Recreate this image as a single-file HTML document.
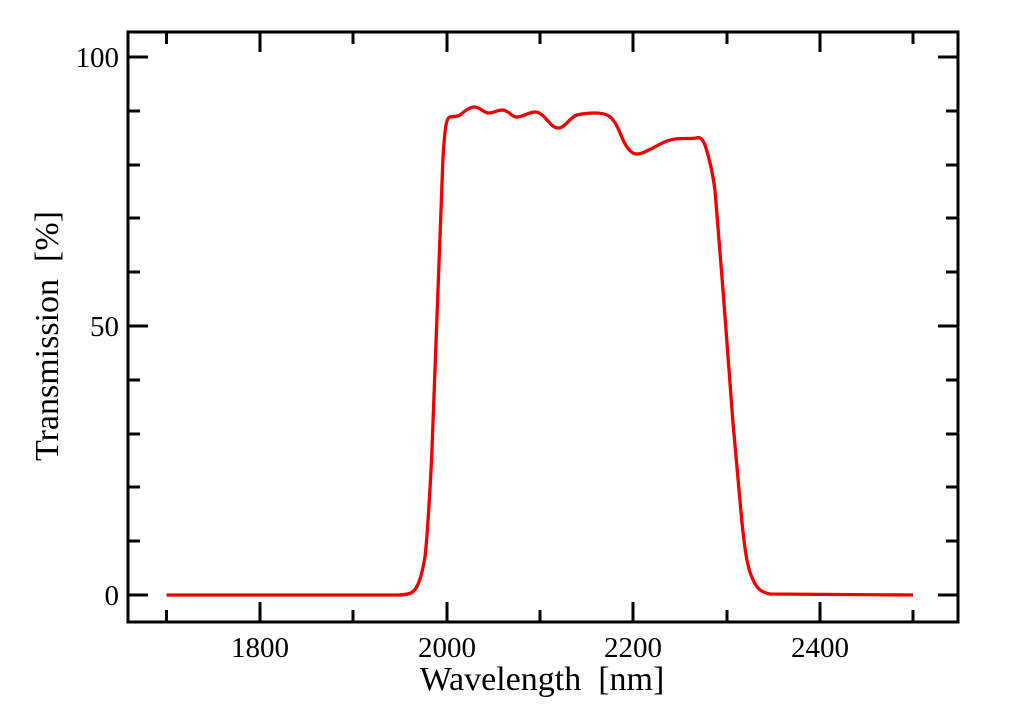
<!DOCTYPE html>
<html><head><style>body{margin:0;background:#fff}</style></head><body>
<svg width="1024" height="708" viewBox="0 0 1024 708" xmlns="http://www.w3.org/2000/svg" font-family="Liberation Serif, serif">
<rect x="128" y="32" width="830" height="590" fill="none" stroke="#000" stroke-width="3"/>
<g stroke="#000" stroke-width="3">
<path d="M260,622v-20M447,622v-20M633,622v-20M820,622v-20M260,32v20M447,32v20M633,32v20M820,32v20"/>
<path d="M166.5,622v-12M353,622v-12M540,622v-12M727,622v-12M913,622v-12M166.5,32v12M353,32v12M540,32v12M727,32v12M913,32v12"/>
<path d="M128,57h20M128,326h20M128,595h20M958,57h-20M958,326h-20M958,595h-20"/>
<path d="M128,111h12M128,165h12M128,218h12M128,272h12M128,380h12M128,434h12M128,487h12M128,541h12M958,111h-12M958,165h-12M958,218h-12M958,272h-12M958,380h-12M958,434h-12M958,487h-12M958,541h-12"/>
</g>
<g font-size="29" text-anchor="end">
<text x="119" y="67">100</text><text x="119" y="336">50</text><text x="119" y="605">0</text>
</g>
<g font-size="29" text-anchor="middle">
<text x="260" y="657">1800</text><text x="447" y="657">2000</text><text x="633" y="657">2200</text><text x="820" y="657">2400</text>
</g>
<text x="542" y="690" font-size="34" text-anchor="middle">Wavelength&#160;&#160;[nm]</text>
<text transform="translate(58,336) rotate(-90)" font-size="34" text-anchor="middle">Transmission&#160;&#160;[%]</text>
<path fill="none" stroke="#e00" stroke-width="3.3" stroke-linejoin="round" d="M166.5,595 L398,595 C405,595 408,594 411,593 C417,590 421,580 425,557 C428,530 430,490 431.7,457 L438,290 L443,157 C445,128 446,118 450,117 C455,116 457,117 460,115 C466,110 470,107 474.5,107 C480,107 484,113 488.5,113 C494,113 497,110 502.5,110 C508,110 512,117 516.5,117 C523,117 529,112 535,112 C541,112 545,118 549,122 C552,126 555,128 558.5,128 C565,128 570,117 577,115 C585,113 590,113 595,113 C602,113 606,114 609,116 C615,120 619,130 623,140 C628,150 632,154 637,154 C642,154 646,151 651,149 C660,144 667,140 675,139 C683,138 689,139 696,138 C700,137 702,138 705,145 C710,160 713,175 715,190 L723,290 L733,423 L742,523 C745,550 747,565 751,575 C756,588 760,592 770,594 L913,595"/>
</svg>
</body></html>
